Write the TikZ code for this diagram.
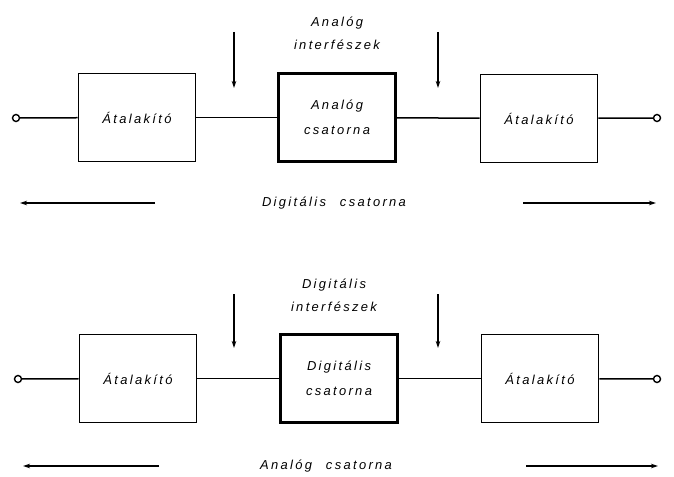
\documentclass[tikz,border=0pt]{standalone}
\usepackage{fontspec}
\setmainfont{Liberation Sans}
\newfontfamily\labfont[LetterSpace=18]{Liberation Sans}
\usetikzlibrary{arrows.meta}
\begin{document}
\begin{tikzpicture}[x=1bp,y=-1bp,
  blk/.style={draw,line width=1.8bp,minimum width=117bp,minimum height=88bp,inner sep=0pt,align=center,font=\labfont\itshape\fontsize{13}{25}\selectfont},
  thickblk/.style={blk,line width=2.6bp},
  lbl/.style={font=\labfont\itshape\fontsize{13}{23}\selectfont,align=center,inner sep=0pt},
  wire/.style={line width=1.5bp},
  term/.style={circle,draw,line width=1.4bp,minimum size=7bp,inner sep=0pt},
  arr/.style={line width=1.6bp,-{Stealth[length=7bp,width=4.5bp]}}]
\useasboundingbox (0,0) rectangle (674,477);
% ---------- top ----------
\node[term] (t1) at (16,118) {};
\node[blk] (a1) at (137,117.5) {Átalakító};
\node[thickblk] (c1) at (337,117.5) {Analóg\\csatorna};
\node[blk] (b1) at (539,118.5) {Átalakító};
\node[term] (t2) at (657,118) {};
\draw[wire] (t1) -- (a1);
\draw[wire] (a1) -- (c1);
\draw[wire] (c1) -- (b1);
\draw[wire] (b1) -- (t2);
\node[lbl] (h1) at (337,33) {Analóg\\interfészek};
\coordinate (p1s) at (234,32); \coordinate (p1e) at (234,88);
\coordinate (p2s) at (438,32); \coordinate (p2e) at (438,88);
\draw[arr] (p1s) -- (p1e);
\draw[arr] (p2s) -- (p2e);
\node[lbl] (d1) at (334,203) {Digitális\hspace{8bp} csatorna};
\coordinate (l1s) at (155,203); \coordinate (l1e) at (20,203);
\coordinate (r1s) at (523,203); \coordinate (r1e) at (656,203);
\draw[arr] (l1s) -- (l1e);
\draw[arr] (r1s) -- (r1e);
% ---------- bottom ----------
\node[term] (t3) at (18,379) {};
\node[blk] (a2) at (138,378.5) {Átalakító};
\node[thickblk] (c2) at (339,378.5) {Digitális\\csatorna};
\node[blk] (b2) at (540,378.5) {Átalakító};
\node[term] (t4) at (657,379) {};
\draw[wire] (t3) -- (a2);
\draw[wire] (a2) -- (c2);
\draw[wire] (c2) -- (b2);
\draw[wire] (b2) -- (t4);
\node[lbl] (h2) at (334,295) {Digitális\\interfészek};
\coordinate (p3s) at (234,294); \coordinate (p3e) at (234,348);
\coordinate (p4s) at (438,294); \coordinate (p4e) at (438,348);
\draw[arr] (p3s) -- (p3e);
\draw[arr] (p4s) -- (p4e);
\node[lbl] (d2) at (326,466) {Analóg\hspace{8bp} csatorna};
\coordinate (l2s) at (159,466); \coordinate (l2e) at (23,466);
\coordinate (r2s) at (526,466); \coordinate (r2e) at (658,466);
\draw[arr] (l2s) -- (l2e);
\draw[arr] (r2s) -- (r2e);
\end{tikzpicture}
\end{document}
